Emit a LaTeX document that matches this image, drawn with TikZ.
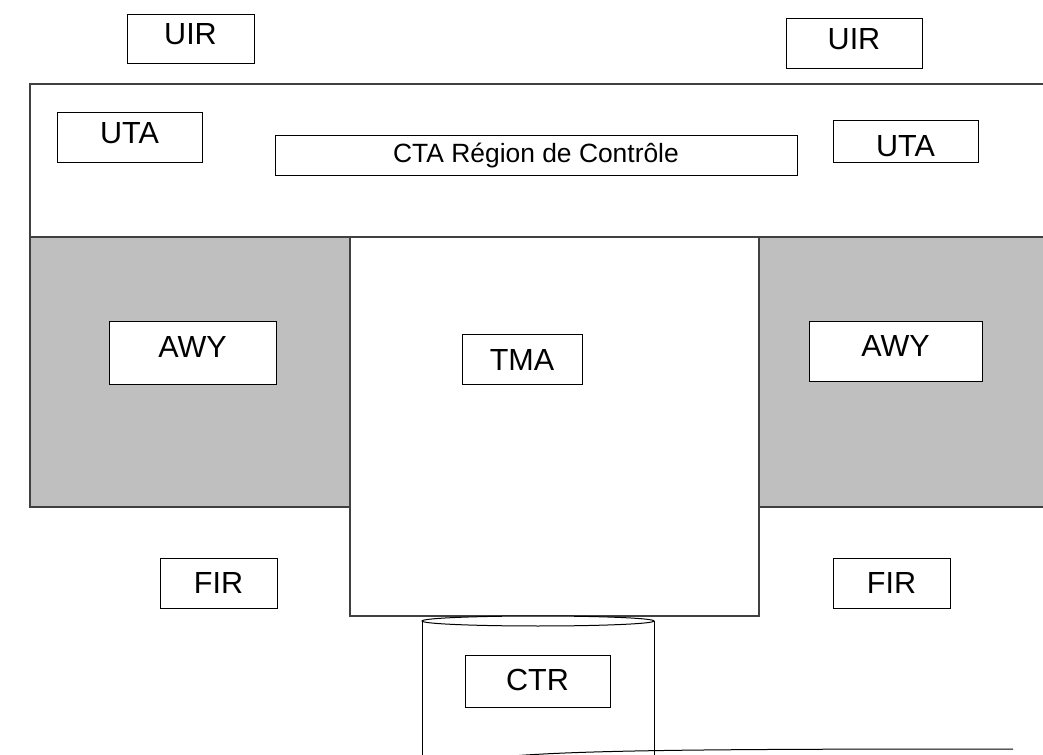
\documentclass[tikz,border=0pt]{standalone}
\usepackage{fontspec}
\setmainfont{Liberation Sans}
\begin{document}
\begin{tikzpicture}[x=0.75pt,y=-0.75pt,
  region/.style={draw=black!75, line width=1pt},
  zone/.style={region, fill=gray!50!white, fill=black!25},
  box/.style={draw=black, line width=0.75pt, fill=white, inner sep=0pt,
    font=\fontsize{22.9}{27}\selectfont},
  sz/.style 2 args={minimum width=#1*0.75pt, minimum height=#2*0.75pt},
  lift/.style={text depth=#1*1.5pt},
  sink/.style={text height=16.4pt+#1*1.5pt},
  edge/.style={draw=black, line width=0.75pt}]
\useasboundingbox (0,0) rectangle (1043,755);
\clip (0,0) rectangle (1043,755);

% control area: upper white band, airway zones and terminal area
\draw[region, fill=white] (30,84) rectangle (1070,237);
\draw[zone] (30,237) rectangle (350,507);
\draw[zone] (759,237) rectangle (1070,507);
\draw[region, fill=white] (350,237) rectangle (759,616);

% control zone drawn as a cylinder below the terminal area
\draw[edge] (422,621) -- (422,770);
\draw[edge] (654,621) -- (654,770);
\draw[edge, fill=white] (538,621) ellipse [x radius=116, y radius=5];
\coordinate (baseL) at (512,756);
\coordinate (baseR) at (1013,749);
\draw[edge] (baseL) .. controls (590,750) and (720,749) .. (baseR);

% labelled units
\node[box, sz={127}{49}, lift=5] (uirL) at (190.5,39.5) {UIR};
\node[box, sz={136}{50}, lift=5] (uirR) at (854,44) {UIR};
\node[box, sz={145}{50}, lift=5] (utaL) at (129.5,138) {UTA};
\node[box, sz={145}{42}, sink=4] (utaR) at (905.5,142) {UTA};
\node[box, sz={522}{40}, font=\fontsize{19.8}{24}\selectfont] (cta) at (536,156) {CTA Région de Contrôle};
\node[box, sz={167}{63}, lift=7] (awyL) at (192.5,353.5) {AWY};
\node[box, sz={173}{60}, lift=6] (awyR) at (895.5,352) {AWY};
\node[box, sz={120}{50}] (tma) at (522,360) {TMA};
\node[box, sz={117}{50}] (firL) at (218.5,583) {FIR};
\node[box, sz={117}{50}] (firR) at (891.5,583) {FIR};
\node[box, sz={145}{52}, lift=1.5] (ctr) at (537.5,681) {CTR};
\end{tikzpicture}
\end{document}
